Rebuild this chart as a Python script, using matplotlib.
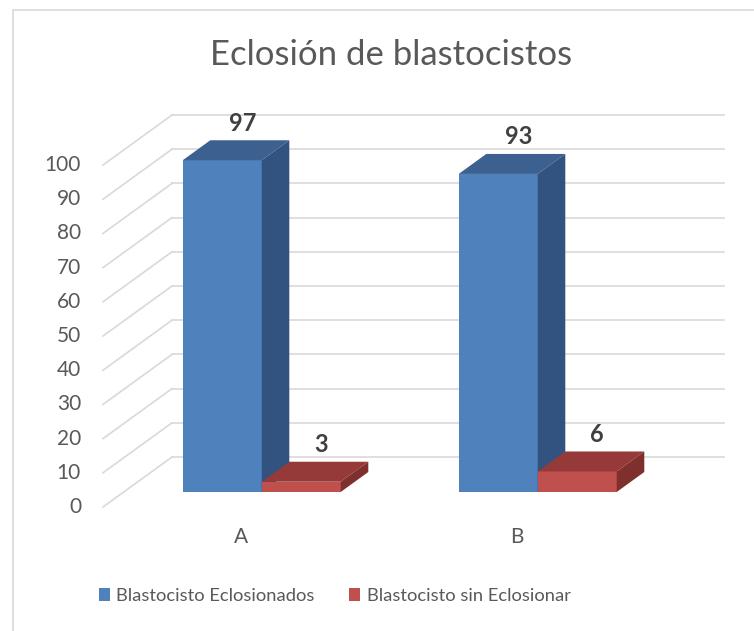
import numpy as np
import matplotlib.pyplot as plt
from matplotlib.patches import Polygon, Patch, Rectangle

plt.rcParams['font.family'] = ['Lato', 'DejaVu Sans']

#-----Data-----#
categories = ['A', 'B']
eclosionados = [97, 93]
sin_eclosionar = [3, 6]
series_names = ['Blastocisto Eclosionados', 'Blastocisto sin Eclosionar']
yticks = list(range(0, 101, 10))
title = 'Eclosión de blastocistos'

#-----Look-----#
# front, top, side colours for each series
colours = [('#4F81BD', '#3C6191', '#325380'),
           ('#C0504D', '#953A38', '#7F302E')]
grid_c = '#D9D9D9'
text_c = '#595959'

# oblique "3D" set up (back wall coordinates, x in categories, y in values)
PXX, PXY = 276.0, 3.42          # pixels per unit
X0, Y0 = 310.0, 457.0           # pixel of (0, 0) on the back wall
DX, DY = 69 / PXX, 50 / PXY     # shift from back wall to front plane
Z_FRONT, Z_BACK = 0.7, 0.3      # depth of bar faces (0 = back wall)
W = 79 / PXX                    # bar width


def shift(z):
    return -z * DX, -z * DY


fig = plt.figure(figsize=(7.54, 6.31), dpi=100)
ax = fig.add_axes([0, 0, 1, 1])
ax.set_xlim(-X0 / PXX, (754 - X0) / PXX)
ax.set_ylim((Y0 - 631) / PXY, Y0 / PXY)
ax.axis('off')

# chart border (only top and left are inside the picture)
fig.add_artist(Rectangle((12.5 / 754, -1), 2, 1 + (1 - 9.5 / 631), transform=fig.transFigure,
                         fill=False, edgecolor=grid_c, linewidth=1.2))

# gridlines on back wall and side wall, tick labels on front plane
sx, sy = shift(1.0)
for v in yticks:
    ax.plot([-0.5, len(categories) - 0.5], [v, v], color=grid_c, lw=1.2, zorder=1)
    ax.plot([-0.5, -0.5 + sx], [v, v + sy], color=grid_c, lw=1.2, zorder=1)
    ax.text(-0.5 + sx - 22 / PXX, v + sy, str(v), ha='right', va='center',
            fontsize=15, color=text_c)

# category labels
for i, cat in enumerate(categories):
    ax.text(i + sx, sy - 30 / PXY, cat, ha='center', va='center', fontsize=15, color=text_c)

# bars
fx, fy = shift(Z_FRONT)
bx, by = shift(Z_BACK)
for i in range(len(categories)):
    for j, vals in enumerate([eclosionados, sin_eclosionar]):
        v = vals[i]
        front, top, side = colours[j]
        xl = i - W + j * W
        xr = xl + W
        ax.bar(xl + fx, v, width=W, bottom=fy, align='edge', color=front, linewidth=0, zorder=2)
        ax.add_patch(Polygon([(xl + fx, v + fy), (xr + fx, v + fy), (xr + bx, v + by), (xl + bx, v + by)],
                             closed=True, facecolor=top, edgecolor='none', zorder=2))
        ax.add_patch(Polygon([(xr + fx, fy), (xr + fx, v + fy), (xr + bx, v + by), (xr + bx, by)],
                             closed=True, facecolor=side, edgecolor='none', zorder=2))
        ax.annotate(str(v), (xl + fx + W / 2, v + fy), xytext=(20 * 0.72, 37 * 0.72),
                    textcoords='offset points', ha='center', va='center',
                    fontsize=17, fontweight='bold', color='#404040', zorder=3)

ax.text(391 / 754, 1 - 55 / 631, title, transform=ax.transAxes, ha='center', va='center',
        fontsize=25, color=text_c)

handles = [Patch(facecolor=c[0]) for c in colours]
ax.legend(handles, series_names, loc='center', bbox_to_anchor=(334.5 / 754, 1 - 596 / 631),
          ncol=2, frameon=False, fontsize=13.2, labelcolor=text_c,
          handlelength=0.6, handleheight=0.7, handletextpad=0.35, columnspacing=1.9)

fig.savefig('out.png', dpi=100)
